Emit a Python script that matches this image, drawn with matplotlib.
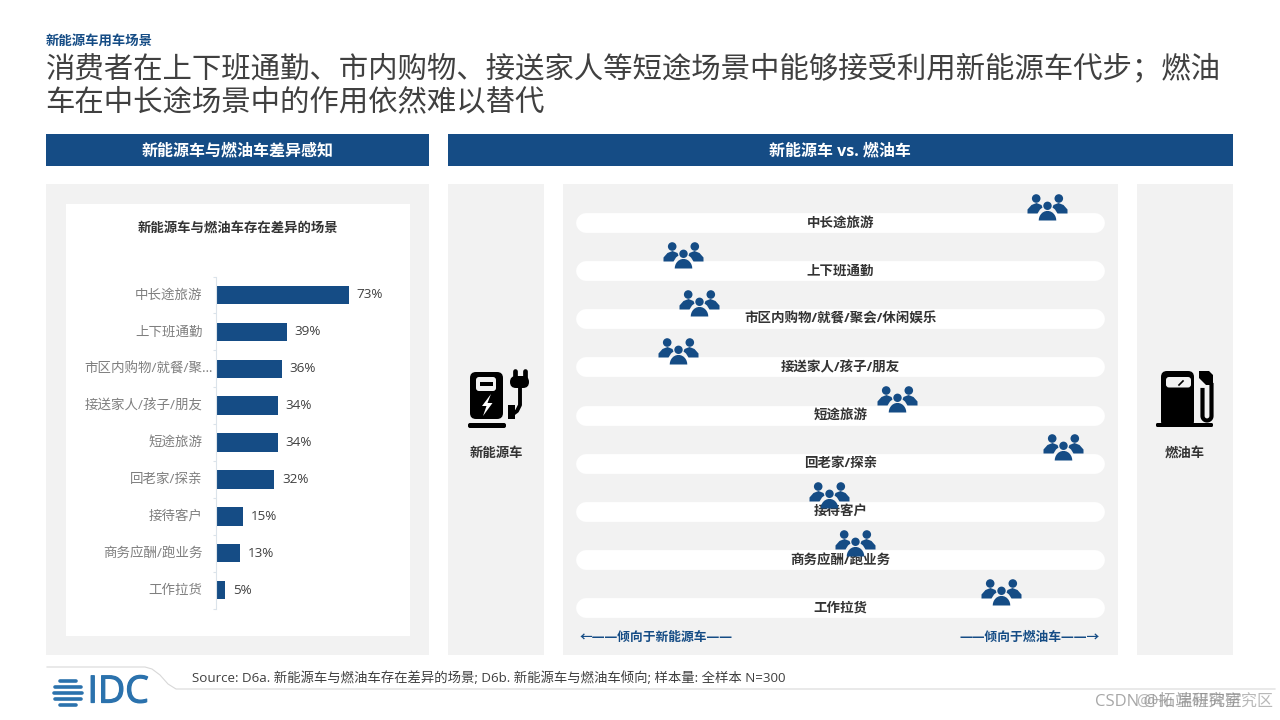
import matplotlib
matplotlib.use("Agg")
import numpy as np
import matplotlib.pyplot as plt
import matplotlib.patheffects as pe
from matplotlib.patches import Rectangle, FancyBboxPatch, Polygon
from matplotlib.path import Path
from matplotlib.ticker import FixedLocator, NullFormatter

plt.rcParams['font.family'] = ['Open Sans', 'Noto Sans CJK SC', 'DejaVu Sans']

# ---------- data ----------
eyebrow = "新能源车用车场景"
title_lines = ["消费者在上下班通勤、市内购物、接送家人等短途场景中能够接受利用新能源车代步；燃油",
               "车在中长途场景中的作用依然难以替代"]
left_header = "新能源车与燃油车差异感知"
right_header = "新能源车 vs. 燃油车"
bar_title = "新能源车与燃油车存在差异的场景"
bar_labels = ["中长途旅游", "上下班通勤", "市区内购物/就餐/聚…", "接送家人/孩子/朋友", "短途旅游",
              "回老家/探亲", "接待客户", "商务应酬/跑业务", "工作拉货"]
bar_values = [73, 39, 36, 34, 34, 32, 15, 13, 5]
lean_labels = ["中长途旅游", "上下班通勤", "市区内购物/就餐/聚会/休闲娱乐", "接送家人/孩子/朋友", "短途旅游",
               "回老家/探亲", "接待客户", "商务应酬/跑业务", "工作拉货"]
lean_values = [89.0, 20.2, 23.3, 19.3, 60.7, 92.0, 47.8, 52.7, 80.3]
source = "Source: D6a. 新能源车与燃油车存在差异的场景; D6b. 新能源车与燃油车倾向; 样本量: 全样本 N=300"

BLUE = "#154c85"
GREY = "#f2f2f2"
W, H = 1280, 720

fig = plt.figure(figsize=(12.8, 7.2), dpi=100, facecolor="white")


def axes_px(x0, y0, x1, y1, **kw):
    return fig.add_axes([x0 / W, 1 - y1 / H, (x1 - x0) / W, (y1 - y0) / H], **kw)


# page layer, in pixels
bg = axes_px(0, 0, W, H, zorder=0)
bg.set_xlim(0, W)
bg.set_ylim(H, 0)
bg.axis("off")


def box(x0, y0, x1, y1, c, z=1):
    bg.add_patch(Rectangle((x0, y0), x1 - x0, y1 - y0, fc=c, ec="none", zorder=z))


bg.text(46, 41.5, eyebrow, fontsize=9.6, fontweight="bold", color=BLUE, va="center")
for txt, y in zip(title_lines, [69, 103]):
    bg.text(45.5, y, txt, fontsize=21.2, color="#404040", va="center")

box(46, 134, 429, 166, BLUE)
box(448, 134, 1233, 166, BLUE)
bg.text(237.5, 151, left_header, color="white", fontsize=11.5, fontweight="bold", ha="center", va="center")
bg.text(840, 151, right_header, color="white", fontsize=11.5, fontweight="bold", ha="center", va="center")

box(46, 184, 429, 655, GREY)
box(66, 204, 410, 636, "white", 2)
box(448, 184, 544, 655, GREY)
box(563, 184, 1118, 655, GREY)
box(1137, 184, 1233, 655, GREY)
bg.text(237.5, 228, bar_title, fontsize=9.6, fontweight="bold", color="#333333", ha="center", va="center", zorder=3)

# charger icon
K = "black"
bg.add_patch(FancyBboxPatch((473, 375), 27, 41, boxstyle="round,pad=3,rounding_size=6", fc=K, ec="none", zorder=3))
bg.add_patch(FancyBboxPatch((476.5, 377.5), 19, 13, boxstyle="round,pad=0.5,rounding_size=3", fc=GREY, ec="none", zorder=4))
box(480, 382, 493, 386, K, 5)
bg.add_patch(Polygon([(491, 394), (482, 406), (486.5, 406), (483, 416), (492.5, 403), (487.5, 403)], fc="white", ec="none", zorder=4))
bg.add_patch(FancyBboxPatch((468.5, 423.5), 37, 4, boxstyle="round,pad=0.5,rounding_size=2", fc=K, ec="none", zorder=3))
box(508, 405, 515, 419, K, 3)
for xp in (515, 524.5):
    bg.plot([xp, xp], [371, 379], color=K, lw=3.4, solid_capstyle="round", zorder=3)
bg.add_patch(FancyBboxPatch((512, 378), 15, 8, boxstyle="round,pad=2,rounding_size=6", fc=K, ec="none", zorder=3))
bg.plot([520, 520, 517, 513], [386, 405, 411, 414], color=K, lw=2.8, zorder=3)
bg.text(496, 453, "新能源车", fontsize=9.6, fontweight="bold", color="#333333", ha="center", va="center", zorder=3)

# fuel pump icon
bg.add_patch(FancyBboxPatch((1164, 374), 27, 50, boxstyle="round,pad=3,rounding_size=6", fc=K, ec="none", zorder=3))
bg.add_patch(FancyBboxPatch((1167, 378), 23, 8.5, boxstyle="round,pad=1,rounding_size=3", fc=GREY, ec="none", zorder=4))
bg.plot([1179, 1183], [385, 381], color=K, lw=1.2, zorder=5)
bg.add_patch(FancyBboxPatch((1156.5, 423.5), 56, 3, boxstyle="round,pad=0.5,rounding_size=1.5", fc=K, ec="none", zorder=3))
bg.add_patch(Polygon([(1199, 371), (1209, 371), (1213, 375), (1213, 385), (1206, 385), (1199, 378)], fc=K, ec="none", zorder=3))
t = np.linspace(np.pi, 2 * np.pi, 16)
bg.plot(np.r_[1202.5, 1207 + 4.5 * np.cos(t), 1211.5],
        np.r_[390, 416 - 4.5 * np.sin(t), 385], color=K, lw=3.0, zorder=3)
bg.text(1185, 453, "燃油车", fontsize=9.6, fontweight="bold", color="#333333", ha="center", va="center", zorder=3)

# ---------- bar chart ----------
ax = axes_px(216, 276.5, 400, 608.5, zorder=2, facecolor="none")
y = np.arange(len(bar_values))
ax.barh(y, bar_values, height=0.5, color=BLUE)
ax.set_xlim(0, 184 / (133 / 73))
ax.set_ylim(len(bar_values) - 0.5, -0.5)
for s in ("top", "right", "bottom"):
    ax.spines[s].set_visible(False)
ax.spines["left"].set_color("#dbe3ea")
ax.spines["left"].set_linewidth(0.8)
ax.xaxis.set_visible(False)
ax.yaxis.set_major_locator(FixedLocator(y))
ax.yaxis.set_major_formatter(NullFormatter())
ax.yaxis.set_minor_locator(FixedLocator(np.arange(len(bar_values) + 1) - 0.5))
ax.tick_params(axis="y", which="major", length=0)
ax.tick_params(axis="y", which="minor", length=2.2, width=0.8, color="#dbe3ea")
for i, (lab, v) in enumerate(zip(bar_labels, bar_values)):
    off = -3 if lab.endswith("…") else -13.5
    ax.annotate(lab, (0, i), xytext=(off * 0.72, 0), textcoords="offset points", ha="right", va="center",
                fontsize=9.7, color="#7f7f7f")
    ax.annotate(f"{v}%", (v, i), xytext=(5.6, 0), textcoords="offset points", ha="left", va="center",
                fontsize=9.7, color="#404040")

# ---------- lean chart ----------
ax2 = axes_px(576, 199, 1105, 622.4, zorder=3, facecolor="none")
ax2.axis("off")
ax2.set_xlim(0, 100)
ypos = np.arange(len(lean_values))
ax2.set_ylim(8.3, -0.5)
ax2.hlines(ypos, 1.8, 98.2, color="white", lw=14.2, capstyle="round", zorder=1)
for i, lab in enumerate(lean_labels):
    ax2.annotate(lab, (50, i), ha="center", va="center", fontsize=9.7, fontweight="bold", color="#333333", zorder=2)


def circle(cx, cy, r):
    p = Path.circle((cx, cy), r)
    return p.vertices, p.codes


def blob(pts):
    v = np.array(pts + [pts[0]], float)
    c = [Path.MOVETO] + [Path.LINETO] * (len(pts) - 1) + [Path.CLOSEPOLY]
    return v, np.array(c)


def arc_body(xl, xr, ytop, ybot):
    a = np.linspace(np.pi, 0, 14)
    xc, rx = (xl + xr) / 2, (xr - xl) / 2
    ry = ytop - ybot
    return [(xc + rx * np.cos(t), ybot + ry * np.sin(t)) for t in a]


parts = [
    circle(-11.3, 9.0, 4.3), circle(11.3, 9.0, 4.3), circle(0, 1.7, 4.2),
    blob(arc_body(-8.8, 8.8, -3.4, -13)),
    blob([(-20, -6), (-20, -2), (-16, 2.5), (-11, 4.5), (-6, 2.5), (-5, 0), (-7.5, -2), (-10, -6)]),
    blob([(20, -6), (20, -2), (16, 2.5), (11, 4.5), (6, 2.5), (5, 0), (7.5, -2), (10, -6)]),
]
people = Path(np.concatenate([p[0] for p in parts]), np.concatenate([np.asarray(p[1]) for p in parts]))
icon_dy = 0.34
ax2.plot(lean_values, ypos - icon_dy, ls="none", marker=people, markersize=28.8, mfc=BLUE, mec="none", zorder=5, clip_on=False)

bg.text(580, 637, "←——倾向于新能源车——", fontsize=9.2, fontweight="bold", color=BLUE, va="center", zorder=3)
bg.text(1100, 637, "——倾向于燃油车——→", fontsize=9.2, fontweight="bold", color=BLUE, ha="right", va="center", zorder=3)

# ---------- footer ----------
bg.plot([47, 145, 152, 160, 168, 176, 1275], [667, 667, 669, 675, 684, 689, 689], color="#d8d8d8", lw=0.8, zorder=1)
bg.text(192, 678, source, fontsize=9.63, color="#404040", va="center", zorder=3)
LOGO = "#2b72ad"
for yy, hw in zip([680.7, 686.7, 692.7, 699, 705], [8, 13, 14, 13, 8]):
    bg.plot([68 - hw, 68 + hw], [yy, yy], color=LOGO, lw=2.6, solid_capstyle="round", zorder=3)
logo = bg.text(87.5, 692.5, "IDC", fontsize=27, color=LOGO, va="center", ha="left", fontfamily="Open Sans", zorder=3)
logo.set_path_effects([pe.withStroke(linewidth=0.9, foreground=LOGO)])
bg.text(1095, 702, "CSDN @拓端研究室", fontsize=12, color="#8a8a8a", ha="left", va="center", alpha=0.75, zorder=3)
bg.text(1273, 703, "@Hu 里程碑研究区", fontsize=11.5, color="#8a8a8a", ha="right", va="center", alpha=0.6, zorder=3)

fig.savefig("out.png", dpi=100)
